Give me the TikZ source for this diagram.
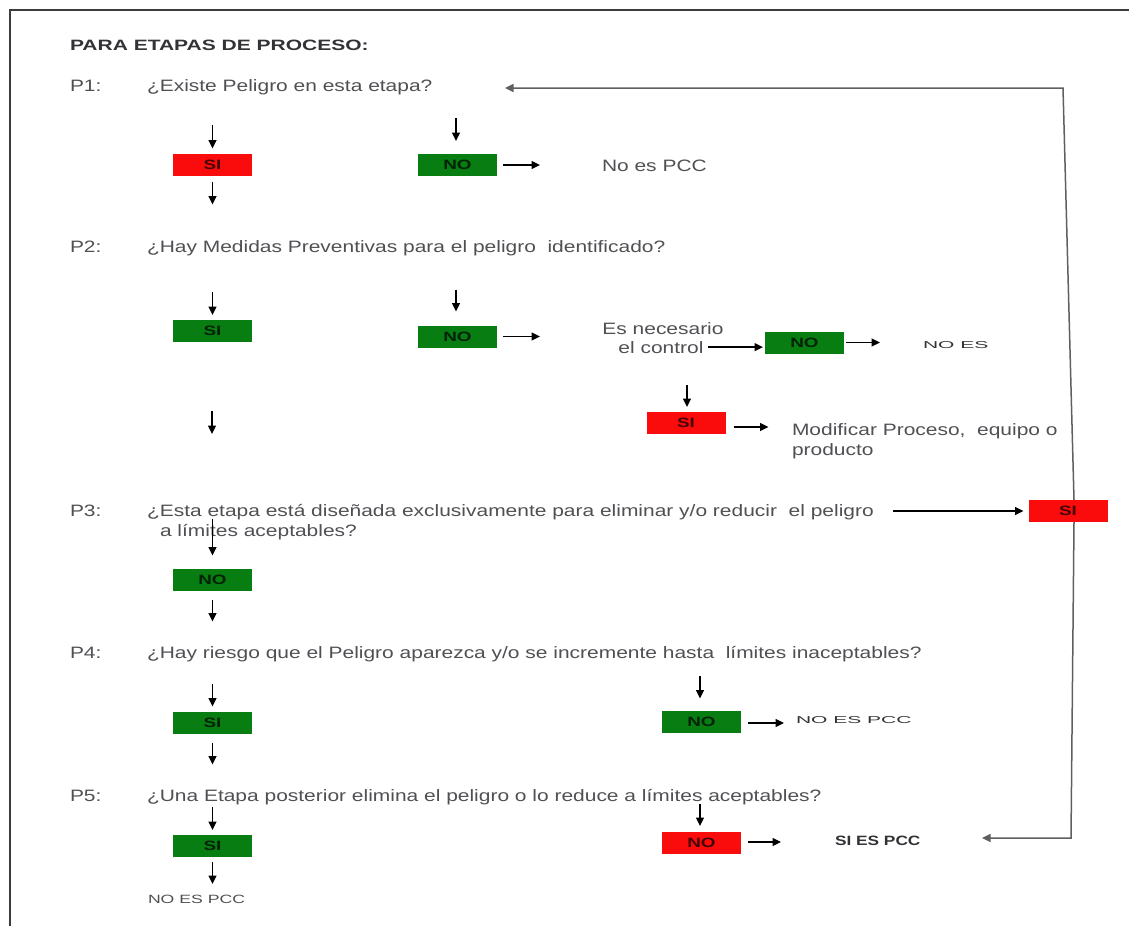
\documentclass[tikz,border=0pt]{standalone}
\usepackage{fontspec}
\usetikzlibrary{arrows.meta}
\setmainfont{Liberation Sans}
% wide faces of Arial-like type
\newfontfamily\qfont{Liberation Sans}[FakeStretch=1.27]
\newfontfamily\ttlfont{Liberation Sans}[FakeStretch=1.4]
\newfontfamily\lblfont{Liberation Sans}[FakeStretch=1.4]
\newfontfamily\widefont{Liberation Sans}[FakeStretch=2.1]
\newfontfamily\pccfont{Liberation Sans}[FakeStretch=1.28]
\newfontfamily\endfont{Liberation Sans}[FakeStretch=1.47]

\definecolor{boxred}{RGB}{250,12,12}
\definecolor{boxgreen}{RGB}{8,125,18}
\definecolor{qgray}{RGB}{80,80,84}
\definecolor{dgray}{RGB}{50,50,55}
\definecolor{framegray}{RGB}{60,60,60}
\definecolor{fbgray}{RGB}{95,95,95}

\tikzset{
  every node/.style={inner sep=0pt, outer sep=0pt},
  q/.style={anchor=base west, text=qgray, font=\qfont\fontsize{16.5}{19}\selectfont},
  ttl/.style={anchor=base west, text=dgray, font=\ttlfont\bfseries\fontsize{15}{17}\selectfont},
  wide/.style={anchor=base west, text=dgray, font=\widefont\fontsize{10}{11}\selectfont},
  pcc/.style={anchor=base west, text=dgray, font=\pccfont\bfseries\fontsize{13.5}{15}\selectfont},
  endtxt/.style={anchor=base west, text=qgray, font=\endfont\fontsize{12}{14}\selectfont},
  box/.style={minimum width=79pt, minimum height=22pt, text=black, text opacity=0.72,
              font=\lblfont\bfseries\fontsize{13.5}{14}\selectfont},
  redbox/.style={box, fill=boxred},
  greenbox/.style={box, fill=boxgreen},
  arr/.style={-{Triangle[length=8.5pt,width=8pt]}, line width=1.5pt, black},
  fb/.style={line width=1.5pt, fbgray},
  fbarr/.style={fb, -{Triangle[length=8.5pt,width=8pt]}}
}

\begin{document}
\begin{tikzpicture}[x=1pt,y=-1pt]
\useasboundingbox (0,0) rectangle (1129,926);

% page frame
\draw[line width=2pt, framegray] (1129,10) -- (10,10) -- (10,926);

% heading and questions
\node[ttl] (title) at (70,50) {PARA ETAPAS DE PROCESO:};
\node[q] (p1) at (70,91) {P1:};
\node[q] (q1) at (147,91) {¿Existe Peligro en esta etapa?};
\node[q] (p2) at (70,252) {P2:};
\node[q] (q2) at (147,252) {¿Hay Medidas Preventivas para el peligro~ identificado?};
\node[q] (p3) at (70,516) {P3:};
\node[q] (q3) at (147,516) {¿Esta etapa está diseñada exclusivamente para eliminar y/o reducir~ el peligro};
\node[q] (q3b) at (160,536) {a límites aceptables?};
\node[q] (p4) at (70,658) {P4:};
\node[q] (q4) at (147,658) {¿Hay riesgo que el Peligro aparezca y/o se incremente hasta~ límites inaceptables?};
\node[q] (p5) at (70,801) {P5:};
\node[q] (q5) at (147,801) {¿Una Etapa posterior elimina el peligro o lo reduce a límites aceptables?};

% ---- P1 ----
\node[redbox]   (s1) at (212.5,164.5) {SI};
\node[greenbox] (n1) at (457.5,165) {NO};
\node[q] (r1) at (602,171) {No es PCC};
\draw[arr] ([yshift=29pt]s1.north) -- ([yshift=5pt]s1.north);
\draw[arr] ([yshift=-6pt]s1.south) -- ([yshift=-29pt]s1.south);
\draw[arr] ([xshift=-1.5pt,yshift=36pt]n1.north) -- ([xshift=-1.5pt,yshift=13pt]n1.north);
\draw[arr] ([xshift=6pt]n1.east) -- ([xshift=43pt]n1.east);

% ---- P2 ----
\node[greenbox] (s2) at (212.5,331) {SI};
\node[greenbox] (n2) at (457.5,336.5) {NO};
\node[q, anchor=base] (ctl1) at (663,334) {Es necesario};
\node[q, anchor=base] (ctl2) at (661,353) {el control};
\node[greenbox] (n3) at (804.5,342.5) {NO};
\node[wide] (r2) at (923,348) {NO ES};
\node[redbox] (s3) at (686,423) {SI};
\node[q] (mod1) at (792,435) {Modificar Proceso,~ equipo o};
\node[q] (mod2) at (792,455) {producto};
\coordinate (lone1) at (212,411);
\coordinate (lone2) at (212,434);
\draw[arr] ([yshift=28pt]s2.north) -- ([yshift=5pt]s2.north);
\draw[arr] ([xshift=-1.5pt,yshift=36pt]n2.north) -- ([xshift=-1.5pt,yshift=14pt]n2.north);
\draw[arr] ([xshift=6pt]n2.east) -- ([xshift=43pt]n2.east);
\draw[arr] ([xshift=4pt]ctl2.east) -- ([xshift=-2pt]ctl2.east -| n3.west);
\draw[arr] ([xshift=2pt]n3.east) -- ([xshift=36pt]n3.east);
\draw[arr] ([xshift=1pt,yshift=27pt]s3.north) -- ([xshift=1pt,yshift=5pt]s3.north);
\draw[arr] ([xshift=8pt,yshift=-4pt]s3.east) -- ([xshift=43pt,yshift=-4pt]s3.east);
\draw[arr] (lone1) -- (lone2);

% ---- P3 ----
\node[greenbox] (n4) at (212.5,579.5) {NO};
\node[redbox] (s6) at (1068,511) {SI};
\coordinate (q3end) at (893,511);
\draw[arr] ([yshift=50pt]n4.north) -- ([yshift=13pt]n4.north);
\draw[arr] ([yshift=-9pt]n4.south) -- ([yshift=-31pt]n4.south);
\draw[arr] (q3end) -- ([xshift=-5pt]s6.west);

% ---- P4 ----
\node[greenbox] (s4) at (212.5,722.5) {SI};
\node[greenbox] (n5) at (701.5,721.5) {NO};
\node[wide] (r4) at (796,723) {NO ES PCC};
\draw[arr] ([yshift=28pt]s4.north) -- ([yshift=5pt]s4.north);
\draw[arr] ([yshift=-9pt]s4.south) -- ([yshift=-31pt]s4.south);
\draw[arr] ([xshift=-1.5pt,yshift=35pt]n5.north) -- ([xshift=-1.5pt,yshift=12pt]n5.north);
\draw[arr] ([xshift=7pt,yshift=-1.5pt]n5.east) -- ([xshift=43pt,yshift=-1.5pt]n5.east);

% ---- P5 ----
\node[greenbox] (s5) at (212.5,846) {SI};
\node[endtxt] (r5) at (148,903) {NO ES PCC};
\node[redbox] (n6) at (701.5,843) {NO};
\node[pcc] (r6) at (835,845) {SI ES PCC};
\draw[arr] ([yshift=28pt]s5.north) -- ([yshift=5pt]s5.north);
\draw[arr] ([yshift=-5pt]s5.south) -- ([yshift=-27pt]s5.south);
\draw[arr] ([xshift=-1.5pt,yshift=28pt]n6.north) -- ([xshift=-1.5pt,yshift=6pt]n6.north);
\draw[arr] ([xshift=7pt,yshift=1pt]n6.east) -- ([xshift=40pt,yshift=1pt]n6.east);

% ---- return lines from the right-hand SI ----
\coordinate (fbtop) at (1063,88);
\coordinate (fbtip) at (505,88);
\coordinate (fbbot) at (1071,838);
\coordinate (fbend) at (982,838);
\draw[fbarr] ([xshift=6pt]s6.north) -- (fbtop) -- (fbtip);
\draw[fbarr] ([xshift=6pt]s6.south) -- (fbbot) -- (fbend);
\end{tikzpicture}
\end{document}
